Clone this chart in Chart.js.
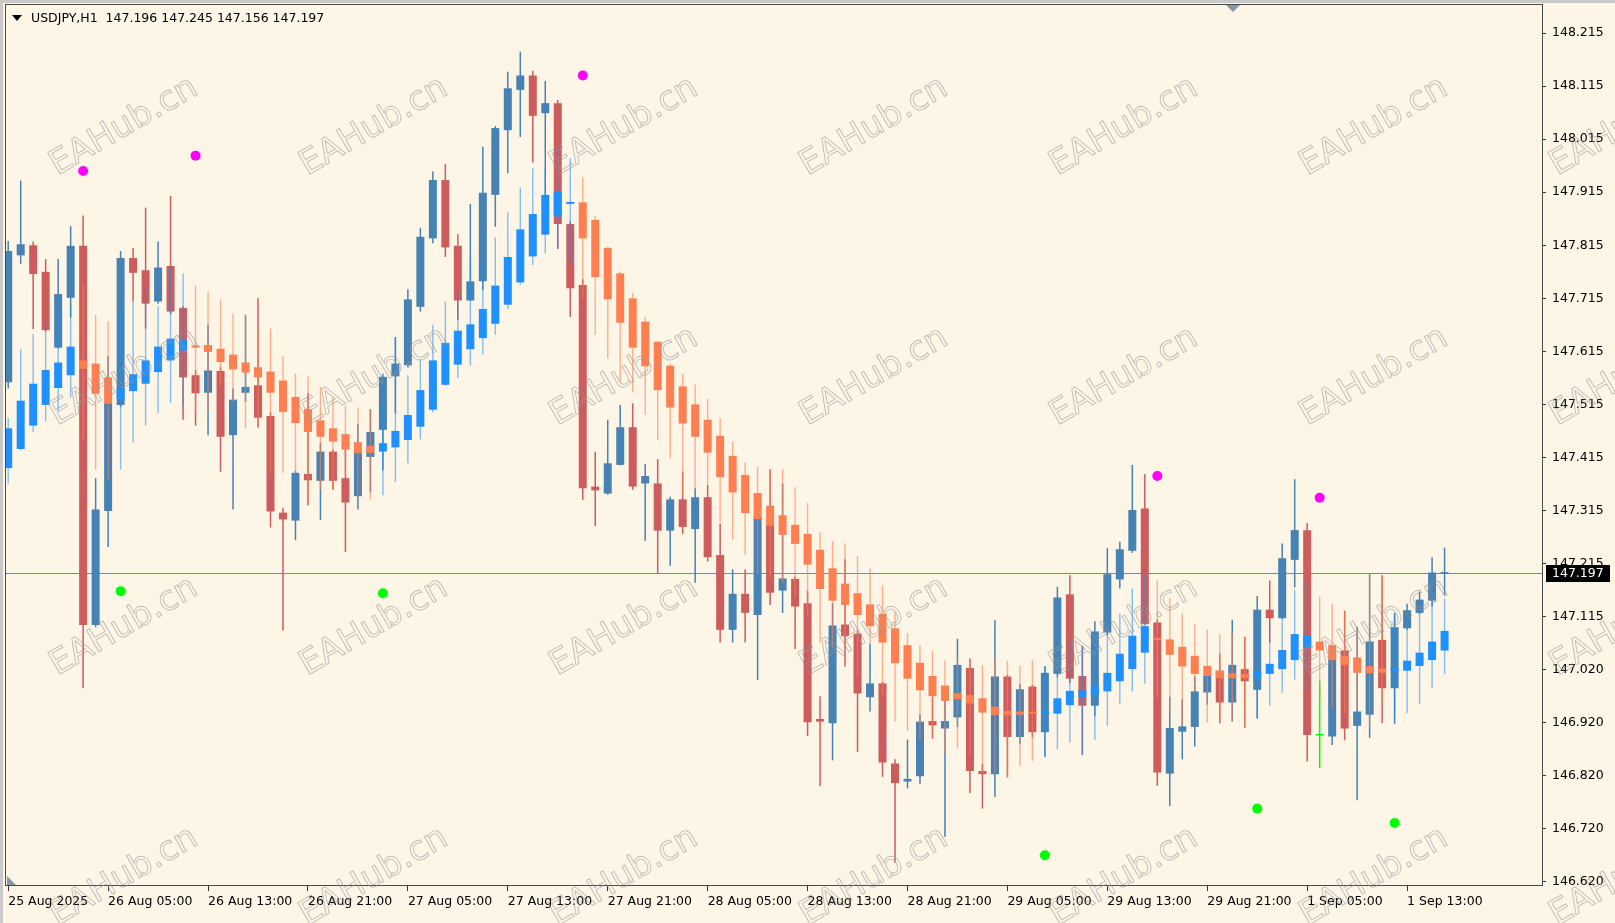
<!DOCTYPE html>
<html>
<head>
<meta charset="utf-8">
<title>USDJPY,H1</title>
<script src="https://cdn.jsdelivr.net/npm/chart.js@4.4.1/dist/chart.umd.min.js"></script>
<style>
  html, body { margin: 0; padding: 0; background: #FDF5E6; overflow: hidden; }
  #wrap { position: relative; width: 1615px; height: 923px; }
</style>
</head>
<body>
<div id="wrap"><canvas id="chart"></canvas></div>
<script>
// ---- data ----
const symbolTitle = "USDJPY,H1";
const lastBarText = "147.196 147.245 147.156 147.197";
const currentPrice = 147.197;

// regular candles (one per hour, 25 Aug 21:00 .. 1 Sep 16:00)
const mainOpen = [147.557,147.796,147.815,147.765,147.622,147.716,147.814,147.099,147.314,147.514,
147.791,147.768,147.709,147.776,147.697,147.570,147.537,147.578,147.457,147.537,
147.551,147.493,147.311,147.296,147.384,147.371,147.426,147.376,147.342,147.416,
147.467,147.568,147.589,147.699,147.828,147.938,147.814,147.711,147.747,147.910,
148.032,148.108,148.135,148.064,148.083,147.855,147.740,147.360,147.347,147.401,
147.472,147.366,147.366,147.277,147.336,147.280,147.340,147.231,147.090,147.158,
147.118,147.290,147.164,147.186,147.140,146.922,146.914,147.100,147.083,146.963,
146.989,146.838,146.804,146.814,146.918,146.904,146.925,147.018,146.824,146.818,
147.002,146.888,146.983,146.897,147.007,147.157,147.003,146.947,147.085,147.185,
147.239,147.319,147.104,146.819,146.898,146.907,146.972,147.013,146.953,147.016,
146.977,147.128,147.112,147.222,147.278,146.891,146.889,147.051,146.909,146.930,
147.071,146.980,147.093,147.122,147.145,147.196];
const mainHigh = [147.823,147.937,147.822,147.789,147.789,147.851,147.871,147.376,147.606,147.804,
147.810,147.886,147.822,147.908,147.700,147.580,147.665,147.585,147.545,147.683,
147.715,147.500,147.320,147.390,147.536,147.443,147.430,147.440,147.478,147.506,
147.573,147.642,147.732,147.848,147.954,147.968,147.836,147.893,148.001,148.040,
148.142,148.180,148.144,148.125,148.089,147.860,147.751,147.426,147.486,147.514,
147.517,147.403,147.412,147.341,147.388,147.357,147.363,147.290,147.204,147.204,
147.304,147.393,147.366,147.190,147.164,146.965,147.140,147.223,147.090,147.064,
146.992,146.846,146.883,146.931,146.964,146.983,147.073,147.036,146.837,147.108,
147.005,146.988,146.986,147.022,147.171,147.193,147.060,147.106,147.244,147.256,
147.401,147.384,147.110,146.964,146.959,147.002,147.015,147.045,147.109,147.077,
147.154,147.183,147.253,147.374,147.291,146.994,147.040,147.126,147.096,147.195,
147.193,147.122,147.139,147.162,147.227,147.245];
const mainLow = [147.545,147.780,147.657,147.652,147.620,147.679,146.980,147.095,147.246,147.510,
147.710,147.658,147.705,147.685,147.486,147.475,147.457,147.388,147.317,147.520,
147.472,147.283,147.089,147.259,147.325,147.297,147.354,147.237,147.317,147.349,
147.391,147.498,147.585,147.690,147.819,147.793,147.674,147.710,147.731,147.850,
147.951,148.019,147.971,147.910,147.808,147.680,147.335,147.286,147.345,147.400,
147.354,147.258,147.196,147.211,147.271,147.179,147.219,147.066,147.066,147.066,
146.995,147.137,147.122,147.054,146.890,146.795,146.844,147.021,146.860,146.936,
146.813,146.651,146.791,146.799,146.885,146.700,146.907,146.782,146.753,146.775,
146.812,146.875,146.887,146.851,147.000,146.990,146.854,146.927,147.080,147.168,
147.235,147.100,146.796,146.758,146.846,146.870,146.949,146.914,146.917,146.905,
146.923,147.066,147.110,147.170,146.842,146.829,146.873,146.882,146.769,146.886,
146.914,146.913,147.090,147.120,147.134,147.156];
const mainClose = [147.804,147.817,147.761,147.655,147.723,147.814,147.099,147.317,147.517,147.791,
147.763,147.705,147.773,147.690,147.566,147.536,147.579,147.454,147.524,147.548,
147.490,147.313,147.298,147.386,147.372,147.426,147.371,147.330,147.426,147.463,
147.567,147.592,147.713,147.831,147.938,147.811,147.711,147.747,147.914,148.036,
148.111,148.135,148.059,148.083,147.855,147.734,147.357,147.353,147.404,147.472,
147.360,147.380,147.277,147.336,147.284,147.340,147.227,147.090,147.158,147.122,
147.304,147.160,147.187,147.134,146.916,146.917,147.098,147.078,146.970,146.989,
146.840,146.801,146.809,146.917,146.910,146.918,147.024,146.824,146.818,147.002,
146.888,146.978,146.897,147.009,147.151,146.998,146.947,147.087,147.195,147.242,
147.316,147.101,146.821,146.905,146.908,146.974,147.003,146.953,147.024,146.993,
147.128,147.112,147.225,147.278,146.892,146.891,147.034,146.904,146.936,147.068,
146.980,147.095,147.127,147.147,147.198,147.197];

// smoothed heiken ashi overlay
const haOpen = [147.395,147.431,147.475,147.514,147.546,147.570,147.598,147.592,147.566,147.525,
147.540,147.554,147.576,147.598,147.616,147.626,147.627,147.620,147.609,147.594,
147.585,147.577,147.560,147.529,147.506,147.485,147.470,147.459,147.444,147.437,
147.426,147.434,147.448,147.473,147.505,147.552,147.590,147.619,147.640,147.667,
147.703,147.745,147.794,147.835,147.869,147.893,147.896,147.863,147.810,147.762,
147.715,147.671,147.633,147.588,147.549,147.515,147.486,147.456,147.418,147.382,
147.348,147.324,147.306,147.288,147.271,147.241,147.206,147.177,147.159,147.138,
147.120,147.093,147.061,147.028,147.003,146.985,146.971,146.967,146.961,146.945,
146.937,146.936,146.936,146.932,146.932,146.948,146.963,146.967,146.974,146.993,
147.016,147.047,147.074,147.072,147.058,147.041,147.022,147.013,147.008,147.007,
147.001,147.007,147.016,147.033,147.057,147.068,147.061,147.041,147.038,147.022,
147.017,147.013,147.013,147.022,147.033,147.051];
const haHigh = [147.490,147.619,147.648,147.672,147.690,147.700,147.739,147.684,147.672,147.690,
147.710,147.736,147.700,147.773,147.762,147.739,147.728,147.713,147.686,147.685,
147.661,147.658,147.606,147.573,147.568,147.548,147.528,147.512,147.509,147.506,
147.517,147.642,147.570,147.600,147.665,147.709,147.730,147.790,147.790,147.830,
147.877,147.924,147.960,147.960,148.001,147.979,147.943,147.870,147.812,147.765,
147.725,147.680,147.635,147.592,147.573,147.553,147.525,147.489,147.445,147.405,
147.397,147.393,147.393,147.359,147.329,147.274,147.257,147.253,147.229,147.206,
147.174,147.124,147.084,147.061,147.051,147.032,147.036,147.036,147.023,147.036,
147.032,147.023,147.032,147.020,147.000,147.070,147.060,147.085,147.085,147.121,
147.168,147.195,147.183,147.150,147.120,147.102,147.091,147.082,147.084,147.077,
147.090,147.107,147.112,147.165,147.183,147.153,147.139,147.126,147.096,147.195,
147.193,147.122,147.093,147.122,147.143,147.149];
const haLow = [147.366,147.428,147.463,147.483,147.502,147.528,147.450,147.392,147.372,147.392,
147.443,147.475,147.499,147.518,147.512,147.500,147.502,147.550,147.520,147.470,
147.470,147.386,147.386,147.385,147.325,147.354,147.354,147.380,147.340,147.336,
147.344,147.369,147.404,147.449,147.500,147.550,147.565,147.588,147.609,147.646,
147.695,147.740,147.778,147.800,147.810,147.781,147.715,147.646,147.602,147.558,
147.538,147.495,147.448,147.414,147.340,147.353,147.363,147.294,147.260,147.231,
147.196,147.190,147.178,147.153,147.115,147.066,147.056,147.021,147.000,147.064,
146.967,146.917,146.900,146.883,146.885,146.857,146.866,146.854,146.820,146.819,
146.812,146.833,146.843,146.850,146.865,146.877,146.854,146.883,146.909,146.950,
146.974,146.989,146.961,146.930,146.909,146.974,146.915,146.914,146.917,146.905,
146.923,146.947,146.971,146.996,146.977,146.958,146.942,146.933,146.939,146.910,
146.952,146.923,146.933,146.950,146.980,147.007];
const haClose = [147.470,147.522,147.554,147.580,147.594,147.624,147.582,147.535,147.517,147.545,
147.572,147.598,147.624,147.639,147.637,147.622,147.614,147.595,147.581,147.575,
147.566,147.537,147.501,147.480,147.463,147.454,147.445,147.430,147.423,147.424,
147.442,147.465,147.495,147.542,147.598,147.631,147.654,147.666,147.695,147.739,
147.793,147.845,147.874,147.910,147.916,147.895,147.828,147.755,147.713,147.669,
147.622,147.587,147.542,147.509,147.479,147.454,147.424,147.378,147.349,147.310,
147.299,147.286,147.269,147.252,147.213,147.167,147.145,147.137,147.118,147.097,
147.066,147.027,146.998,146.976,146.965,146.956,146.959,146.951,146.934,146.929,
146.929,146.930,146.932,146.937,146.961,146.975,146.976,146.984,147.009,147.045,
147.079,147.097,147.071,147.043,147.021,147.007,147.003,146.999,146.999,146.999,
147.011,147.026,147.052,147.082,147.080,147.051,147.034,147.024,147.009,147.008,
147.009,147.018,147.032,147.047,147.068,147.088];

// signal dots
const upSignalIdx = [6, 15, 46, 92, 105];
const upSignalVal = [147.955, 147.984, 148.135, 147.380, 147.339];
const dnSignalIdx = [9, 30, 83, 100, 111];
const dnSignalVal = [147.163, 147.159, 146.665, 146.753, 146.726];

// axes
const xTickIdx = [0, 8, 16, 24, 32, 40, 48, 56, 64, 72, 80, 88, 96, 104, 112];
const xTickLabels = ["25 Aug 2025", "26 Aug 05:00", "26 Aug 13:00", "26 Aug 21:00", "27 Aug 05:00",
  "27 Aug 13:00", "27 Aug 21:00", "28 Aug 05:00", "28 Aug 13:00", "28 Aug 21:00", "29 Aug 05:00",
  "29 Aug 13:00", "29 Aug 21:00", "1 Sep 05:00", "1 Sep 13:00"];
const yTickVals = [148.215, 148.115, 148.015, 147.915, 147.815, 147.715, 147.615, 147.515, 147.415,
  147.315, 147.215, 147.115, 147.015, 146.915, 146.815, 146.715, 146.615];
const yTickLabels = ["148.215", "148.115", "148.015", "147.915", "147.815", "147.715", "147.615", "147.515",
  "147.415", "147.315", "147.215", "147.115", "147.020", "146.920", "146.820", "146.720", "146.620"];

// ---- colours ----
const BG = "#FDF5E6";
const BULL = "#4682B4", BEAR = "#CD5C5C", DOJI = "#00FF00";
const HA_BULL = "#1E90FF", HA_BEAR = "#FF7F50";
const FONT = "'DejaVu Sans', Verdana, sans-serif";

const idx = mainOpen.map((_, i) => i);
const mainCol = i => mainClose[i] > mainOpen[i] ? BULL : (mainClose[i] < mainOpen[i] ? BEAR : DOJI);
const haCol = i => haClose[i] >= haOpen[i] ? HA_BULL : HA_BEAR;
const haWickCol = i => haClose[i] >= haOpen[i] ? "rgba(30,144,255,0.55)" : "rgba(255,127,80,0.6)";

// no label overhang padding: the plot fills the window like the terminal does
const noPad = s => { s.paddingTop = 0; s.paddingBottom = 0; s.paddingLeft = 0; s.paddingRight = 0; };

const decor = {
  id: "decor",
  beforeDraw(chart) {
    const ctx = chart.ctx, W = chart.width, H = chart.height;
    ctx.save();
    ctx.fillStyle = BG;
    ctx.fillRect(0, 0, W, H);
    // window frame
    ctx.fillStyle = "#c9c9c9";
    ctx.fillRect(0, 0, W, 3);
    ctx.fillRect(0, 0, 3, H);
    ctx.restore();
  },
  beforeDatasetsDraw(chart) {
    const ctx = chart.ctx, a = chart.chartArea;
    const y = Math.round(chart.scales.y.getPixelForValue(currentPrice)) + 0.5;
    ctx.save();
    ctx.strokeStyle = "#778899";
    ctx.lineWidth = 1;
    ctx.beginPath();
    ctx.moveTo(a.left, y);
    ctx.lineTo(a.right, y);
    ctx.stroke();
    ctx.restore();
  },
  afterDraw(chart) {
    const ctx = chart.ctx, a = chart.chartArea;
    ctx.save();
    // plot frame
    ctx.strokeStyle = "#4a4a4a";
    ctx.lineWidth = 1;
    ctx.strokeRect(a.left - 0.5, a.top - 0.5, a.right - a.left + 1, a.bottom - a.top + 1);

    // header
    ctx.fillStyle = "#000";
    ctx.beginPath();
    ctx.moveTo(12, 15); ctx.lineTo(22, 15); ctx.lineTo(17, 21); ctx.closePath();
    ctx.fill();
    ctx.font = "12.5px " + FONT;
    ctx.textBaseline = "middle";
    ctx.textAlign = "left";
    ctx.fillText(symbolTitle, 31, 19);
    const tw = ctx.measureText(symbolTitle + "  ").width;
    ctx.fillText(lastBarText, 31 + tw, 19);

    // chart shift marker
    ctx.fillStyle = "#8796a8";
    ctx.beginPath();
    ctx.moveTo(1226, a.top); ctx.lineTo(1240, a.top); ctx.lineTo(1233, a.top + 7); ctx.closePath();
    ctx.fill();
    ctx.beginPath();
    ctx.moveTo(a.left + 1, a.bottom - 9); ctx.lineTo(a.left + 1, a.bottom); ctx.lineTo(a.left + 10, a.bottom);
    ctx.closePath();
    ctx.fill();

    // current price tag
    const y = Math.round(chart.scales.y.getPixelForValue(currentPrice));
    ctx.fillStyle = "#000";
    ctx.fillRect(a.right + 4, y - 8, 64, 17);
    ctx.fillStyle = "#fff";
    ctx.font = "12.5px " + FONT;
    ctx.fillText(currentPrice.toFixed(3), a.right + 10, y + 1);

    // watermark
    ctx.font = "34px " + FONT;
    ctx.textAlign = "center";
    ctx.strokeStyle = "rgba(150,150,150,0.6)";
    ctx.lineWidth = 0.9;
    for (let r = 0; r < 4; r++) {
      for (let c = 0; c < 7; c++) {
        ctx.save();
        ctx.translate(124 + 250 * c, 127 + 250 * r);
        ctx.rotate(-30 * Math.PI / 180);
        ctx.strokeText("EAHub.cn", 0, 0);
        ctx.restore();
      }
    }
    ctx.restore();
  }
};

const barDefaults = { grouped: false, borderWidth: 0, borderSkipped: false, inflateAmount: 0 };

new Chart(document.getElementById("chart"), {
  type: "bar",
  data: {
    datasets: [
      Object.assign({
        label: "wicks",
        data: idx.map(i => ({ x: i, y: [mainLow[i], mainHigh[i]] })),
        backgroundColor: idx.map(mainCol),
        barThickness: 1.5,
        minBarLength: 1,
        order: 5
      }, barDefaults),
      Object.assign({
        label: "bodies",
        data: idx.map(i => ({ x: i, y: [mainOpen[i], mainClose[i]] })),
        backgroundColor: idx.map(mainCol),
        barThickness: 8,
        minBarLength: 1.5,
        order: 4
      }, barDefaults),
      Object.assign({
        label: "HA wicks",
        data: idx.map(i => ({ x: i, y: [haLow[i], haHigh[i]] })),
        backgroundColor: idx.map(haWickCol),
        barThickness: 1.4,
        minBarLength: 1,
        order: 3
      }, barDefaults),
      Object.assign({
        label: "HA bodies",
        data: idx.map(i => ({ x: i, y: [haOpen[i], haClose[i]] })),
        backgroundColor: idx.map(haCol),
        barThickness: 8,
        minBarLength: 2,
        order: 2
      }, barDefaults),
      {
        type: "scatter",
        label: "up",
        data: upSignalIdx.map((x, k) => ({ x, y: upSignalVal[k] })),
        pointBackgroundColor: "#FF00FF",
        pointBorderWidth: 0,
        pointRadius: 5,
        order: 1
      },
      {
        type: "scatter",
        label: "down",
        data: dnSignalIdx.map((x, k) => ({ x, y: dnSignalVal[k] })),
        pointBackgroundColor: "#00FF00",
        pointBorderWidth: 0,
        pointRadius: 5,
        order: 1
      }
    ]
  },
  options: {
    responsive: true,
    maintainAspectRatio: false,
    animation: false,
    events: [],
    layout: { padding: { left: 6, top: 5, right: 0, bottom: 0 } },
    plugins: { legend: { display: false }, tooltip: { enabled: false }, title: { display: false } },
    scales: {
      x: {
        type: "linear",
        min: -0.176,
        max: 122.8,
        offset: false,
        grid: { drawOnChartArea: false, drawTicks: true, tickLength: 6, color: "#333", offset: false },
        border: { display: false },
        ticks: {
          autoSkip: false, maxRotation: 0, minRotation: 0, align: "start", padding: 3,
          color: "#000", font: { family: FONT, size: 12.5 },
          callback: (v, i) => xTickLabels[i]
        },
        afterBuildTicks: s => { s.ticks = xTickIdx.map(v => ({ value: v })); },
        afterFit: s => { s.height = 38; noPad(s); }
      },
      y: {
        type: "linear",
        position: "right",
        min: 146.609,
        max: 148.268,
        grid: { drawOnChartArea: false, drawTicks: true, tickLength: 4, color: "#333" },
        border: { display: false },
        ticks: {
          autoSkip: false, padding: 6, color: "#000", font: { family: FONT, size: 12.5 },
          callback: (v, i) => yTickLabels[i]
        },
        afterBuildTicks: s => { s.ticks = yTickVals.map(v => ({ value: v })); },
        afterFit: s => { s.width = 73; noPad(s); }
      }
    }
  },
  plugins: [decor]
});
</script>
</body>
</html>
